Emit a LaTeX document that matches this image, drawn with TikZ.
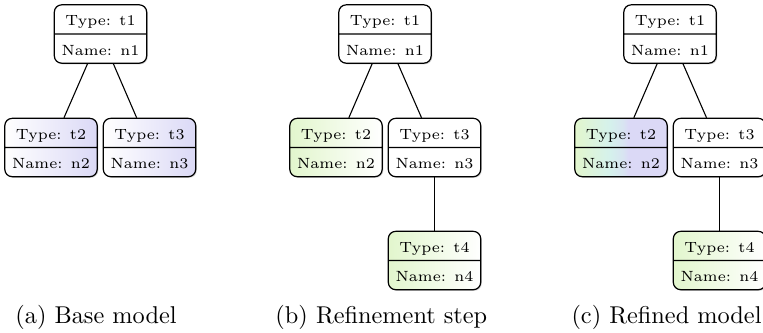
\documentclass[tikz,border=0pt]{standalone}
\usepackage{fix-cm}
\usetikzlibrary{shapes.multipart,shadows}

\definecolor{lav}{RGB}{219,217,246}
\definecolor{lime}{RGB}{226,246,205}
\definecolor{mint}{RGB}{213,241,236}
\definecolor{mintlav}{RGB}{216,228,241}

% green -> cyan -> lavender, used for a merged node
\pgfdeclarehorizontalshading{mixed}{100bp}{%
  color(0bp)=(lime); color(25bp)=(lime); color(44bp)=(mint);
  color(51bp)=(mintlav); color(54bp)=(lav); color(75bp)=(lav); color(100bp)=(lav)}

% fixed row height for both parts of a model node
\newcommand\rowstrut{\rule[-3.1pt]{0pt}{11.5pt}}

\tikzset{
  rec/.style={rectangle split, rectangle split parts=2, draw,
    rounded corners=3pt, line width=0.5pt,
    inner xsep=2pt, inner ysep=0pt, minimum width=38pt,
    font=\fontsize{6.1}{7}\selectfont,
    drop shadow={shadow xshift=0.45pt, shadow yshift=-0.45pt, opacity=0.35}},
  plain/.style={rec, fill=white},
  base/.style={rec, left color=white, right color=lav},
  added/.style={rec, left color=lime, right color=white},
  merged/.style={rec, shading=mixed},
  link/.style={line width=0.45pt},
  captxt/.style={inner sep=0pt, font=\normalsize},
}

\begin{document}
\begin{tikzpicture}[x=0.4115pt, y=-0.4115pt]
\useasboundingbox (0,0) rectangle (763,332);

% (a) base model
\node[plain] (a1) at (100.5,34)  {\rowstrut Type: t1\nodepart{two}\rowstrut Name: n1};
\node[base]  (a2) at (51,147.5)  {\rowstrut Type: t2\nodepart{two}\rowstrut Name: n2};
\node[base]  (a3) at (149.5,147.5) {\rowstrut Type: t3\nodepart{two}\rowstrut Name: n3};
\draw[link] (a1) -- (a2);
\draw[link] (a1) -- (a3);

% (b) refinement step
\node[plain] (b1) at (385,34)    {\rowstrut Type: t1\nodepart{two}\rowstrut Name: n1};
\node[added] (b2) at (336,147.5) {\rowstrut Type: t2\nodepart{two}\rowstrut Name: n2};
\node[plain] (b3) at (434.5,147.5) {\rowstrut Type: t3\nodepart{two}\rowstrut Name: n3};
\node[added] (b4) at (434.5,260.5) {\rowstrut Type: t4\nodepart{two}\rowstrut Name: n4};
\draw[link] (b1) -- (b2);
\draw[link] (b1) -- (b3);
\draw[link] (b3) -- (b4);

% (c) refined model
\node[plain]  (c1) at (670,34)    {\rowstrut Type: t1\nodepart{two}\rowstrut Name: n1};
\node[merged] (c2) at (621,147.5) {\rowstrut Type: t2\nodepart{two}\rowstrut Name: n2};
\node[plain]  (c3) at (719.5,147.5) {\rowstrut Type: t3\nodepart{two}\rowstrut Name: n3};
\node[added]  (c4) at (719.5,260.5) {\rowstrut Type: t4\nodepart{two}\rowstrut Name: n4};
\draw[link] (c1) -- (c2);
\draw[link] (c1) -- (c3);
\draw[link] (c3) -- (c4);

% captions
\node[captxt, anchor=base west] (capa) at (15,323)  {(a) Base model};
\node[captxt, anchor=base west] (capb) at (275,323) {(b) Refinement step};
\node[captxt, anchor=base east] (capc) at (762,323) {(c) Refined model};
\end{tikzpicture}
\end{document}
